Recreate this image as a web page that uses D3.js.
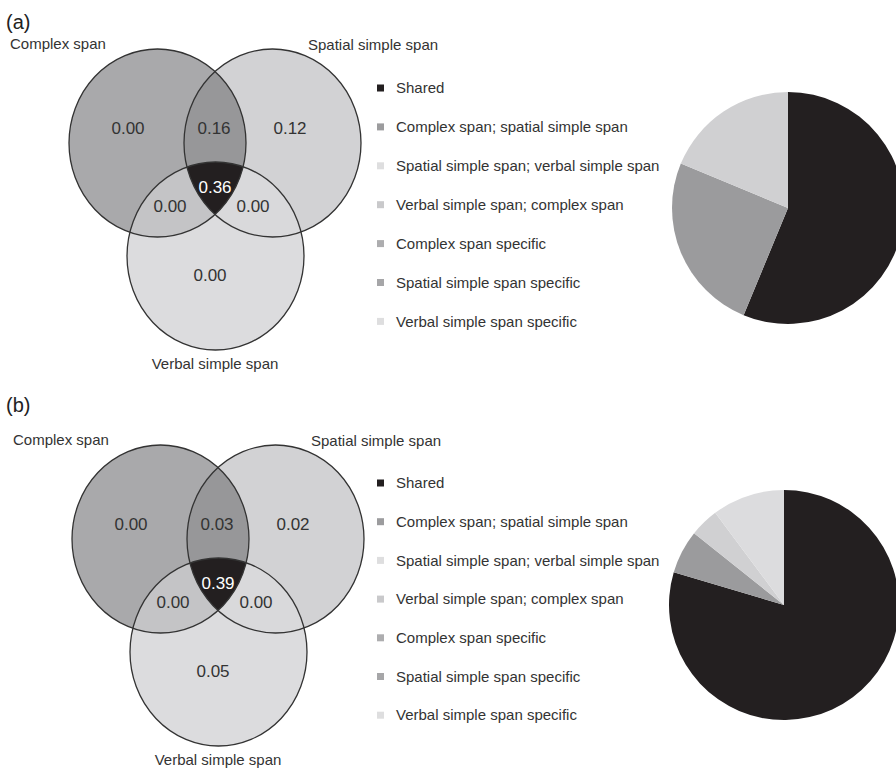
<!DOCTYPE html>
<html>
<head>
<meta charset="utf-8">
<script src="https://cdn.jsdelivr.net/npm/d3@7"></script>
<style>
  body { margin: 0; background: #fff; }
  svg { display: block; font-family: "Liberation Sans", Arial, Helvetica, sans-serif; }
</style>
</head>
<body>
<div id="chart"></div>
<script>
// Categories (legend order = pie order, clockwise from 12 o'clock).
const categories = [
  "Shared",
  "Complex span; spatial simple span",
  "Spatial simple span; verbal simple span",
  "Verbal simple span; complex span",
  "Complex span specific",
  "Spatial simple span specific",
  "Verbal simple span specific"
];

// Variance components.
const valuesA = [0.36, 0.16, 0.00, 0.00, 0.00, 0.12, 0.00];
const valuesB = [0.39, 0.03, 0.00, 0.00, 0.00, 0.02, 0.05];

// Set names.
const setNames = ["Complex span", "Spatial simple span", "Verbal simple span"];
const panelLabels = ["(a)", "(b)"];

// Grey shades.
const pieColors = ["#231f20", "#9b9b9d", "#dcdcde", "#c8c8ca", "#acacae", "#d0d0d2", "#dcdcde"];
const legendColors = ["#231f20", "#9c9c9e", "#dededf", "#c9c9cb", "#adadaf", "#a6a6a8", "#dededf"];

const width = 896;
const height = 771;

const svg = d3.select("#chart")
  .append("svg")
  .attr("width", width)
  .attr("height", height);

svg.append("rect").attr("width", width).attr("height", height).attr("fill", "#fff");

const textColor = "#333";

// Venn geometry (panel a coordinates; panel b is shifted).
const rx = 88.5, ry = 94;
const centers = {C: [157.5, 143], S: [272.5, 143], V: [215.5, 256]};

// Where each category's number sits inside the Venn (same order as categories).
const regionPos = [[215, 187], [214, 128], [253, 206], [170, 206], [128, 128], [290, 128], [210, 275]];

const panels = [
  {values: valuesA, label: panelLabels[0], dx: 0, dy: 0, labelY: 22, pie: [788, 208, 116], legendY: 88, legendStep: 38.9},
  {values: valuesB, label: panelLabels[1], dx: 3, dy: 396, labelY: 405, pie: [784, 605, 115], legendY: 483, legendStep: 38.7}
];

panels.forEach(function(p, pi) {
  const g = svg.append("g").attr("transform", `translate(${p.dx}, ${p.dy})`);
  const defs = g.append("defs");
  const id = "p" + pi;

  const ell = function(sel, k) {
    return sel.attr("cx", centers[k][0]).attr("cy", centers[k][1]).attr("rx", rx).attr("ry", ry);
  };

  ["C", "S", "V"].forEach(function(k) {
    defs.append("clipPath").attr("id", id + "clip" + k).call(function(cp) { ell(cp.append("ellipse"), k); });
  });

  // Single-set fills.
  ell(g.append("ellipse"), "C").attr("fill", "#a9a9ab");
  ell(g.append("ellipse"), "S").attr("fill", "#d2d2d4");
  ell(g.append("ellipse"), "V").attr("fill", "#dcdcde");

  // Pairwise overlaps.
  ell(g.append("g").attr("clip-path", `url(#${id}clipC)`).append("ellipse"), "S").attr("fill", "#979799");
  ell(g.append("g").attr("clip-path", `url(#${id}clipC)`).append("ellipse"), "V").attr("fill", "#c4c4c6");
  ell(g.append("g").attr("clip-path", `url(#${id}clipS)`).append("ellipse"), "V").attr("fill", "#d9d9db");

  // Triple overlap.
  ell(g.append("g").attr("clip-path", `url(#${id}clipC)`)
    .append("g").attr("clip-path", `url(#${id}clipS)`)
    .append("ellipse"), "V").attr("fill", "#231f20");

  // Outlines.
  ["C", "S", "V"].forEach(function(k) {
    ell(g.append("ellipse"), k).attr("fill", "none").attr("stroke", "#333").attr("stroke-width", 1.3);
  });

  // Region numbers.
  g.selectAll("text.num")
    .data(p.values)
    .join("text")
      .attr("class", "num")
      .attr("x", (d, i) => regionPos[i][0])
      .attr("y", (d, i) => regionPos[i][1])
      .attr("dy", "0.35em")
      .attr("text-anchor", "middle")
      .style("font-size", "17px")
      .style("fill", (d, i) => i === 0 ? "#fff" : textColor)
      .text(d => d3.format(".2f")(d));

  // Set names.
  g.append("text").attr("x", 10).attr("y", 44).attr("dy", "0.35em")
    .style("font-size", "15px").style("fill", textColor).text(setNames[0]);
  g.append("text").attr("x", 308).attr("y", 45).attr("dy", "0.35em")
    .style("font-size", "15px").style("fill", textColor).text(setNames[1]);
  g.append("text").attr("x", 215).attr("y", 364).attr("dy", "0.35em").attr("text-anchor", "middle")
    .style("font-size", "15px").style("fill", textColor).text(setNames[2]);

  // Panel label.
  svg.append("text").attr("x", 6).attr("y", p.labelY).attr("dy", "0.35em")
    .style("font-size", "20px").style("fill", "#222").text(p.label);

  // Legend.
  const ly = d3.scalePoint().domain(categories).range([p.legendY, p.legendY + 6 * p.legendStep]);
  const leg = svg.append("g");
  leg.selectAll("rect")
    .data(categories)
    .join("rect")
      .attr("x", 377)
      .attr("y", d => ly(d) - 3.5)
      .attr("width", 7)
      .attr("height", 7)
      .attr("fill", (d, i) => legendColors[i]);
  leg.selectAll("text")
    .data(categories)
    .join("text")
      .attr("x", 396)
      .attr("y", d => ly(d))
      .attr("dy", "0.35em")
      .style("font-size", "15px")
      .style("fill", textColor)
      .text(d => d);

  // Pie.
  const pie = d3.pie().sort(null).value(d => d.value);
  const arc = d3.arc().innerRadius(0).outerRadius(p.pie[2]);
  const pieData = categories.map((c, i) => ({name: c, value: p.values[i], color: pieColors[i]}));
  svg.append("g")
    .attr("transform", `translate(${p.pie[0]}, ${p.pie[1]})`)
    .selectAll("path")
    .data(pie(pieData).filter(d => d.data.value > 0))
    .join("path")
      .attr("d", arc)
      .attr("fill", d => d.data.color);
});
</script>
</body>
</html>
